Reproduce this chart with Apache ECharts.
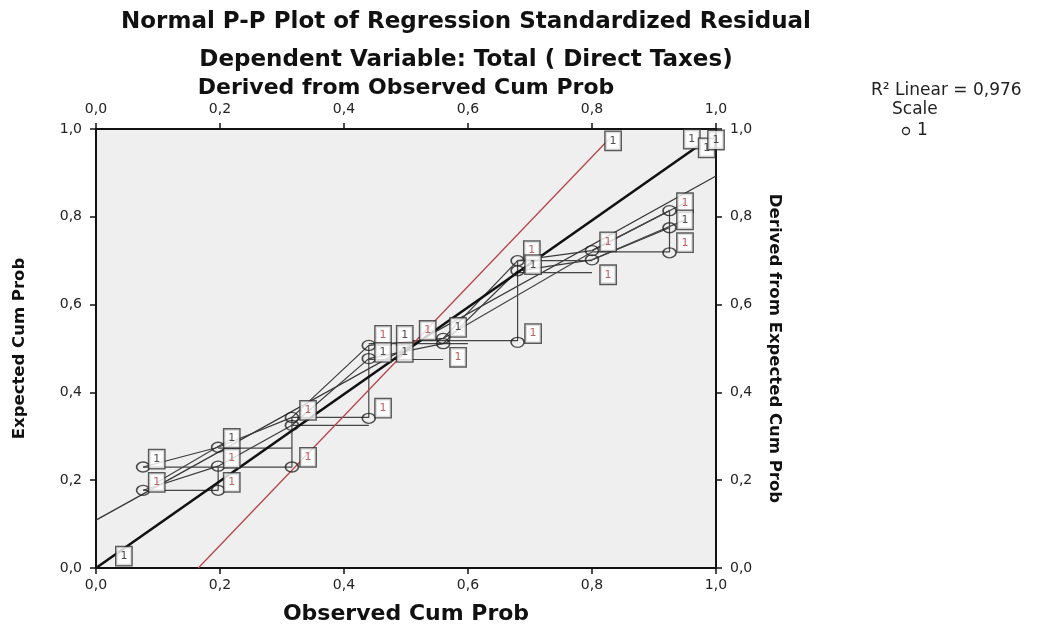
<!DOCTYPE html>
<html><head><meta charset="utf-8">
<script src="https://cdn.jsdelivr.net/npm/echarts@6/dist/echarts.min.js"></script>
<style>html,body{margin:0;padding:0;background:#fff}#c{width:1044px;height:626px}</style>
</head><body><div id="c"></div>
<script>
// ---- texts ----
const titleText = 'Normal P-P Plot of Regression Standardized Residual';
const subtitleText = 'Dependent Variable: Total ( Direct Taxes)';
const xName = 'Observed Cum Prob';
const xTopName = 'Derived from Observed Cum Prob';
const yName = 'Expected Cum Prob';
const yRightName = 'Derived from Expected Cum Prob';
const legendFit = 'R² Linear = 0,976';
const legendTitle = 'Scale';
const legendItem = '1';
const pointLabel = '1';

// ---- points (observed, expected cum prob) ----
const observed = [0.076,0.076,0.197,0.197,0.197,0.316,0.316,0.316,0.44,0.44,0.44,0.56,0.56,0.68,0.68,0.68,0.80,0.80,0.925,0.925,0.925];
const expected = [0.23,0.177,0.275,0.232,0.177,0.343,0.325,0.23,0.507,0.477,0.341,0.523,0.511,0.70,0.677,0.514,0.723,0.702,0.814,0.775,0.718];

// ---- "1" label boxes (data coords) and whether text is red ----
const labelX = [0.045,0.098,0.098,0.219,0.219,0.219,0.342,0.342,0.463,0.463,0.498,0.498,0.535,0.584,0.584,0.463,0.705,0.703,0.705,0.826,0.826,0.834,0.961,0.985,0.95,0.95,0.95,1.0];
const labelY = [0.027,0.248,0.195,0.295,0.25,0.195,0.359,0.252,0.53,0.491,0.53,0.491,0.541,0.548,0.48,0.364,0.534,0.723,0.691,0.743,0.668,0.973,0.977,0.957,0.832,0.793,0.741,0.975];
const labelRed = [0,0,1,0,1,1,1,1,1,0,0,0,1,0,1,1,1,1,0,1,1,0,0,0,1,0,1,0];

// ---- lines ----
const refLine = [[0,0],[0.97,0.96]];
const redLine = [[0.165,0],[0.826,0.975]];
const fitLine = [[0,0.109],[1,0.893]];
const upperPath = [[0.076,0.23],[0.197,0.275],[0.316,0.343],[0.44,0.507],[0.56,0.523],[0.68,0.70],[0.80,0.723],[0.925,0.814]];
const middlePath = [[0.076,0.177],[0.197,0.232],[0.316,0.325],[0.44,0.477],[0.56,0.511],[0.68,0.677],[0.80,0.702],[0.925,0.775]];
const connectorPaths = [
  [[0.076,0.23],[0.316,0.23],[0.316,0.343],[0.44,0.343],[0.44,0.507]],
  [[0.51,0.518],[0.68,0.518],[0.68,0.70]],
  [[0.80,0.72],[0.925,0.72],[0.925,0.814]],
  [[0.076,0.177],[0.197,0.177],[0.197,0.232]],
  [[0.197,0.273],[0.316,0.273]],
  [[0.316,0.325],[0.44,0.325]],
  [[0.44,0.475],[0.56,0.475]],
  [[0.44,0.511],[0.60,0.511]],
  [[0.68,0.673],[0.80,0.673]],
  [[0.68,0.70],[0.80,0.70]],
  [[0.098,0.195],[0.219,0.295]],
  [[0.56,0.523],[0.80,0.72]],
  [[0.80,0.723],[0.95,0.832]],
  [[0.80,0.702],[0.95,0.793]]
];

const FONT = 'DejaVu Sans';
const fmt = v => v.toFixed(1).replace('.', ',');
const axisLineStyle = {show: true, onZero: false, lineStyle: {color: '#111', width: 2}};
const tickStyle = {show: true, inside: false, length: 6, lineStyle: {color: '#111', width: 1.5}};
const tickLabel = m => ({fontFamily: FONT, fontSize: 14, color: '#222', margin: m, formatter: fmt});
const nameStyle = size => ({fontFamily: FONT, fontSize: size, fontWeight: 'bold', color: '#111'});

const valueAxis = extra => Object.assign({
  type: 'value', min: 0, max: 1, interval: 0.2,
  axisLine: axisLineStyle, axisTick: tickStyle, splitLine: {show: false},
  nameLocation: 'middle', nameMoveOverlap: false
}, extra);

const thin = (data, color, width, z) => ({
  type: 'line', data: data, showSymbol: false, symbol: 'none', silent: true,
  lineStyle: {color: color, width: width}, z: z || 2, animation: false
});

const series = [
  thin(fitLine, '#333', 1.2, 2),
  thin(redLine, '#b5474b', 1.3, 3),
  thin(refLine, '#111', 2.6, 4),
  thin(upperPath, '#3a3a3a', 1.2, 2),
  thin(middlePath, '#3a3a3a', 1.2, 2)
];
connectorPaths.forEach(p => series.push(thin(p, '#444', 1.2, 2)));

series.push({
  type: 'scatter', animation: false, z: 5,
  data: observed.map((x, i) => [x, expected[i]]),
  symbol: 'circle', symbolSize: [13, 10],
  itemStyle: {color: 'rgba(0,0,0,0)', borderColor: '#222', borderWidth: 1.5}
});
series.push({
  type: 'scatter', animation: false, z: 6, clip: false,
  data: labelX.map((x, i) => ({
    value: [x, labelY[i]],
    label: {color: labelRed[i] ? '#b03a3a' : '#222'}
  })),
  symbol: 'rect', symbolSize: 1,
  itemStyle: {color: 'rgba(0,0,0,0)'},
  label: {
    show: true, position: 'inside', formatter: pointLabel,
    fontFamily: FONT, fontSize: 11,
    backgroundColor: '#fff', borderColor: '#333', borderWidth: 1.4,
    padding: [4, 4, 3, 4]
  }
});

const chart = echarts.init(document.getElementById('c'), null, {renderer: 'canvas'});
chart.setOption({
  animation: false,
  backgroundColor: '#fff',
  grid: {left: 96, right: 328, top: 129, bottom: 58, show: true, backgroundColor: '#efefef', borderWidth: 0, containLabel: false, outerBoundsMode: 'none'},
  xAxis: [
    valueAxis({position: 'bottom', name: xName, nameGap: 35, nameTextStyle: nameStyle(22), axisLabel: tickLabel(10)}),
    valueAxis({position: 'top', name: xTopName, nameGap: 30, nameTextStyle: nameStyle(22), axisLabel: tickLabel(13)})
  ],
  yAxis: [
    valueAxis({position: 'left', name: yName, nameGap: 68, nameRotate: 90, nameTextStyle: nameStyle(16.5), axisLabel: tickLabel(14)}),
    valueAxis({position: 'right', name: yRightName, nameGap: 50, nameRotate: -90, nameTextStyle: nameStyle(16.5), axisLabel: tickLabel(14)})
  ],
  graphic: [
    {type: 'text', x: 466, y: 22, style: {text: titleText, fontFamily: FONT, fontSize: 23, fontWeight: 'bold', fill: '#111', align: 'center', verticalAlign: 'middle'}},
    {type: 'text', x: 466, y: 60, style: {text: subtitleText, fontFamily: FONT, fontSize: 23, fontWeight: 'bold', fill: '#111', align: 'center', verticalAlign: 'middle'}},
    {type: 'text', x: 871, y: 91, style: {text: legendFit, fontFamily: FONT, fontSize: 17, fill: '#222', align: 'left', verticalAlign: 'middle'}},
    {type: 'text', x: 892, y: 110, style: {text: legendTitle, fontFamily: FONT, fontSize: 17, fill: '#222', align: 'left', verticalAlign: 'middle'}},
    {type: 'circle', shape: {cx: 906, cy: 131, r: 3.5}, style: {fill: 'none', stroke: '#222', lineWidth: 1.3}},
    {type: 'text', x: 917, y: 131, style: {text: legendItem, fontFamily: FONT, fontSize: 17, fill: '#222', align: 'left', verticalAlign: 'middle'}}
  ],
  series: series
});
</script></body></html>
